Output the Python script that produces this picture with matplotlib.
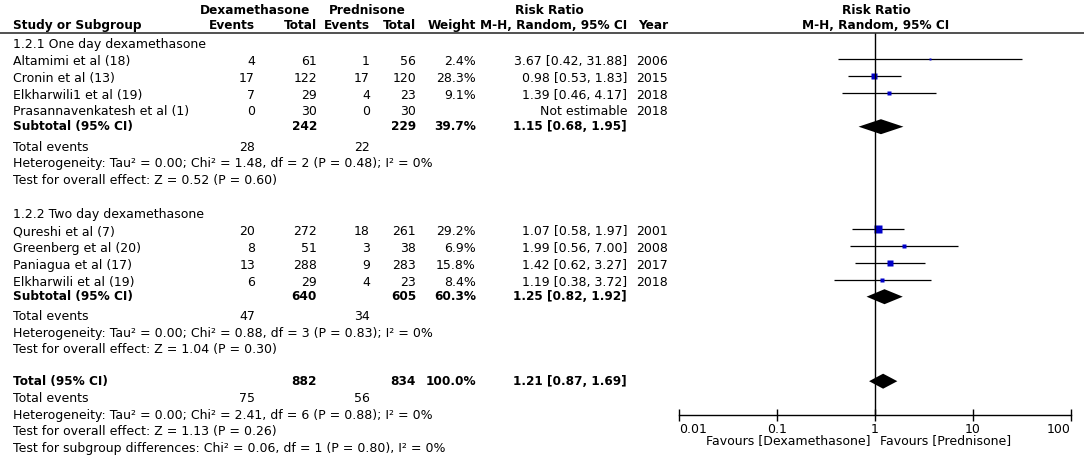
import matplotlib
matplotlib.use("Agg")
import matplotlib.pyplot as plt
import numpy as np

# ---------------- data ----------------
g1_names = ["Altamimi et al (18)", "Cronin et al (13)", "Elkharwili1 et al (19)", "Prasannavenkatesh et al (1)"]
g1_ev_d = [4, 17, 7, 0]
g1_tot_d = [61, 122, 29, 30]
g1_ev_p = [1, 17, 4, 0]
g1_tot_p = [56, 120, 23, 30]
g1_weight = [2.4, 28.3, 9.1, None]
g1_rr = [3.67, 0.98, 1.39, None]
g1_lo = [0.42, 0.53, 0.46, None]
g1_hi = [31.88, 1.83, 4.17, None]
g1_year = [2006, 2015, 2018, 2018]
g1_sub = dict(tot_d=242, tot_p=229, weight=39.7, rr=1.15, lo=0.68, hi=1.95, ev_d=28, ev_p=22)
g1_het = "Heterogeneity: Tau² = 0.00; Chi² = 1.48, df = 2 (P = 0.48); I² = 0%"
g1_test = "Test for overall effect: Z = 0.52 (P = 0.60)"

g2_names = ["Qureshi et al (7)", "Greenberg et al (20)", "Paniagua et al (17)", "Elkharwili et al (19)"]
g2_ev_d = [20, 8, 13, 6]
g2_tot_d = [272, 51, 288, 29]
g2_ev_p = [18, 3, 9, 4]
g2_tot_p = [261, 38, 283, 23]
g2_weight = [29.2, 6.9, 15.8, 8.4]
g2_rr = [1.07, 1.99, 1.42, 1.19]
g2_lo = [0.58, 0.56, 0.62, 0.38]
g2_hi = [1.97, 7.00, 3.27, 3.72]
g2_year = [2001, 2008, 2017, 2018]
g2_sub = dict(tot_d=640, tot_p=605, weight=60.3, rr=1.25, lo=0.82, hi=1.92, ev_d=47, ev_p=34)
g2_het = "Heterogeneity: Tau² = 0.00; Chi² = 0.88, df = 3 (P = 0.83); I² = 0%"
g2_test = "Test for overall effect: Z = 1.04 (P = 0.30)"

tot = dict(tot_d=882, tot_p=834, weight=100.0, rr=1.21, lo=0.87, hi=1.69, ev_d=75, ev_p=56)
tot_het = "Heterogeneity: Tau² = 0.00; Chi² = 2.41, df = 6 (P = 0.88); I² = 0%"
tot_test = "Test for overall effect: Z = 1.13 (P = 0.26)"
sub_test = "Test for subgroup differences: Chi² = 0.06, df = 1 (P = 0.80), I² = 0%"

tick_vals = [0.01, 0.1, 1, 10, 100]
tick_labels = ["0.01", "0.1", "1", "10", "100"]
fav_left = "Favours [Dexamethasone]"
fav_right = "Favours [Prednisone]"

# ---------------- layout ----------------
W, H = 1084, 461
FS = 9.0
FSB = 8.7
plt.rcParams['font.family'] = ['DejaVu Sans']
fig = plt.figure(figsize=(W / 100, H / 100), dpi=100)
lay = fig.add_axes([0, 0, 1, 1])
lay.set_xlim(0, W)
lay.set_ylim(H, 0)
lay.axis('off')

X_L, X_R = 679, 1071
fa = fig.add_axes([X_L / W, 0, (X_R - X_L) / W, 1])
fa.set_xscale('log')
fa.set_xlim(0.01, 100)
fa.set_ylim(H, 0)
fa.patch.set_alpha(0)
for s in ['top', 'left', 'right']:
    fa.spines[s].set_visible(False)
fa.set_yticks([])

# column x positions (pixels)
c_name, c_evd, c_totd, c_evp, c_totp, c_wt, c_ci, c_yr = 13, 255, 317, 370, 416, 476, 627, 668


def txt(x, yc, s, ha='left', bold=False):
    lay.text(x, yc + 4.3, s, ha=ha, va='baseline', fontsize=FSB if bold else FS,
             fontweight='bold' if bold else 'normal', color='black')


# headers
txt(255, 9.5, "Dexamethasone", ha='center', bold=True)
txt(367, 9.5, "Prednisone", ha='center', bold=True)
txt(549, 9.5, "Risk Ratio", ha='center', bold=True)
txt(876, 9.5, "Risk Ratio", ha='center', bold=True)
txt(c_name, 25, "Study or Subgroup", bold=True)
txt(c_evd, 25, "Events", ha='right', bold=True)
txt(c_totd, 25, "Total", ha='right', bold=True)
txt(c_evp, 25, "Events", ha='right', bold=True)
txt(c_totp, 25, "Total", ha='right', bold=True)
txt(c_wt, 25, "Weight", ha='right', bold=True)
txt(c_ci, 25, "M-H, Random, 95% CI", ha='right', bold=True)
txt(c_yr, 25, "Year", ha='right', bold=True)
txt(876, 25, "M-H, Random, 95% CI", ha='center', bold=True)
lay.axhline(33.3, color='#222222', lw=1.1)

SQ_K = 1.3  # px per sqrt(weight %)


def study_rows(names, ev_d, tot_d, ev_p, tot_p, weight, rr, lo, hi, year, centers):
    for i, yc in enumerate(centers):
        txt(c_name, yc, names[i])
        txt(c_evd, yc, str(ev_d[i]), ha='right')
        txt(c_totd, yc, str(tot_d[i]), ha='right')
        txt(c_evp, yc, str(ev_p[i]), ha='right')
        txt(c_totp, yc, str(tot_p[i]), ha='right')
        txt(c_yr, yc, str(year[i]), ha='right')
        if rr[i] is None:
            txt(c_ci, yc, "Not estimable", ha='right')
            continue
        txt(c_wt, yc, f"{weight[i]:.1f}%", ha='right')
        txt(c_ci, yc, f"{rr[i]:.2f} [{lo[i]:.2f}, {hi[i]:.2f}]", ha='right')
        ym = yc - 1.7
        fa.plot([lo[i], hi[i]], [ym, ym], color='black', lw=0.9, solid_capstyle='butt')
        side_pt = SQ_K * np.sqrt(weight[i]) * 72 / 100
        fa.plot([rr[i]], [ym], marker='s', ms=side_pt, mfc='#0000c8', mec='none', ls='none')


def diamond(d, yc, half=7.5):
    fa.fill([d['lo'], d['rr'], d['hi'], d['rr']], [yc, yc - half, yc, yc + half],
            color='black', lw=0)


def pooled_row(label, d, yc, yd):
    txt(c_name, yc, label, bold=True)
    txt(c_totd, yc, str(d['tot_d']), ha='right', bold=True)
    txt(c_totp, yc, str(d['tot_p']), ha='right', bold=True)
    txt(c_wt, yc, f"{d['weight']:.1f}%", ha='right', bold=True)
    txt(c_ci, yc, f"{d['rr']:.2f} [{d['lo']:.2f}, {d['hi']:.2f}]", ha='right', bold=True)
    diamond(d, yd)


def events_row(d, yc):
    txt(c_name, yc, "Total events")
    txt(c_evd, yc, str(d['ev_d']), ha='right')
    txt(c_evp, yc, str(d['ev_p']), ha='right')


# group 1
txt(c_name, 44, "1.2.1 One day dexamethasone")
study_rows(g1_names, g1_ev_d, g1_tot_d, g1_ev_p, g1_tot_p, g1_weight, g1_rr, g1_lo, g1_hi, g1_year,
           [61, 77.7, 94.4, 111])
pooled_row("Subtotal (95% CI)", g1_sub, 125.5, 126.7)
events_row(g1_sub, 146.5)
txt(c_name, 163, g1_het)
txt(c_name, 179.5, g1_test)

# group 2
txt(c_name, 213.5, "1.2.2 Two day dexamethasone")
study_rows(g2_names, g2_ev_d, g2_tot_d, g2_ev_p, g2_tot_p, g2_weight, g2_rr, g2_lo, g2_hi, g2_year,
           [230.7, 247.4, 264.4, 281.4])
pooled_row("Subtotal (95% CI)", g2_sub, 296, 296.7)
events_row(g2_sub, 316)
txt(c_name, 332.5, g2_het)
txt(c_name, 349, g2_test)

# total
pooled_row("Total (95% CI)", tot, 381, 381.2)
events_row(tot, 398)
txt(c_name, 414.5, tot_het)
txt(c_name, 431, tot_test)
txt(c_name, 448, sub_test)

# reference line & axis
fa.vlines(1, 33.3, 415, color='black', lw=1.0)
fa.spines['bottom'].set_position(('data', 415))
fa.spines['bottom'].set_linewidth(1.0)
fa.set_xticks(tick_vals)
fa.set_xticklabels(tick_labels, fontsize=FS)
fa.xaxis.set_minor_locator(matplotlib.ticker.NullLocator())
fa.tick_params(axis='x', direction='inout', length=8, width=1.0, pad=1.5)
tl = fa.get_xticklabels()
tl[0].set_ha('left')
tl[-1].set_ha('right')

txt(870, 440, fav_left, ha='right')
txt(880, 440, fav_right, ha='left')

fig.savefig("out.png", dpi=100)
